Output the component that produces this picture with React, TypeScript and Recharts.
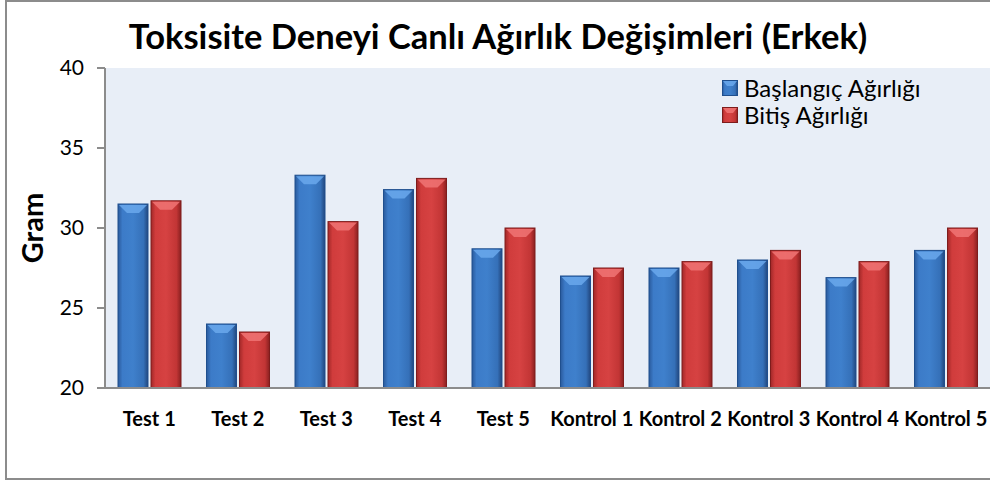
import { Bar, BarChart, CartesianGrid, Legend, XAxis, YAxis } from "recharts";

const categories = [
  "Test 1",
  "Test 2",
  "Test 3",
  "Test 4",
  "Test 5",
  "Kontrol 1",
  "Kontrol 2",
  "Kontrol 3",
  "Kontrol 4",
  "Kontrol 5",
];
const baslangic = [31.5, 24.0, 33.3, 32.4, 28.7, 27.0, 27.5, 28.0, 26.9, 28.6];
const bitis = [31.7, 23.5, 30.4, 33.1, 30.0, 27.5, 27.9, 28.6, 27.9, 30.0];
const yTicks = [20, 25, 30, 35, 40];

const data = categories.map((name, i) => ({
  name,
  baslangic: baslangic[i],
  bitis: bitis[i],
}));

const font = "Lato, 'Open Sans', sans-serif";

const palettes = {
  blue: { grad: "url(#blueBody)", top: "#6aa8ec", edge: "#1f4f8e" },
  red: { grad: "url(#redBody)", top: "#f07474", edge: "#7e1c1c" },
};

function makeBar(p: { grad: string; top: string; edge: string }) {
  return (props: any) => {
    const { x, y, width, height } = props;
    if (!height || height <= 0) return null;
    const b = Math.min(9, width / 3, height);
    return (
      <g>
        <rect x={x} y={y} width={width} height={height} fill={p.grad} stroke={p.edge} strokeWidth={1} />
        <polygon
          points={`${x + 1},${y + 1} ${x + width - 1},${y + 1} ${x + width - b},${y + b} ${x + b},${y + b}`}
          fill={p.top}
          opacity={0.85}
        />
      </g>
    );
  };
}

const BlueBar = makeBar(palettes.blue);
const RedBar = makeBar(palettes.red);

function LegendBox({ color }: { color: "blue" | "red" }) {
  const p = palettes[color];
  return (
    <svg width={16} height={16} style={{ marginRight: 6 }}>
      <rect x={0.5} y={0.5} width={15} height={15} fill={p.grad} stroke={p.edge} />
      <polygon points="1,1 15,1 11,6 5,6" fill={p.top} opacity={0.85} />
    </svg>
  );
}

function renderLegend() {
  const items: { label: string; color: "blue" | "red" }[] = [
    { label: "Başlangıç Ağırlığı", color: "blue" },
    { label: "Bitiş Ağırlığı", color: "red" },
  ];
  return (
    <div style={{ fontFamily: font, fontSize: 24, color: "#000", lineHeight: "27px" }}>
      {items.map((it) => (
        <div key={it.label} style={{ display: "flex", alignItems: "center" }}>
          <LegendBox color={it.color} />
          <span>{it.label}</span>
        </div>
      ))}
    </div>
  );
}

export default function App() {
  return (
    <div
      style={{
        position: "absolute",
        left: 0,
        top: 0,
        width: 990,
        height: 483,
        overflow: "hidden",
        background: "#fff",
      }}
    >
      <div
        style={{
          position: "absolute",
          left: 5,
          top: 0,
          width: 1010,
          height: 480,
          border: "2px solid #8c8c8c",
          boxSizing: "border-box",
        }}
      />
      <div
        style={{
          position: "absolute",
          left: 0,
          width: 996,
          top: 15,
          textAlign: "center",
          fontFamily: font,
          fontWeight: "bold",
          fontSize: 34.5,
          color: "#000",
        }}
      >
        Toksisite Deneyi Canlı Ağırlık Değişimleri (Erkek)
      </div>
      <div style={{ position: "absolute", left: 0, top: 0 }}>
        <BarChart
          width={990}
          height={483}
          data={data}
          margin={{ top: 68, right: 0, bottom: 55, left: 0 }}
          barSize={30}
          barGap={3}
        >
          <defs>
            <linearGradient id="blueBody" x1="0" y1="0" x2="1" y2="0">
              <stop offset="0%" stopColor="#2a5a9c" />
              <stop offset="15%" stopColor="#3c7bc8" />
              <stop offset="50%" stopColor="#3f80cc" />
              <stop offset="85%" stopColor="#3570b8" />
              <stop offset="100%" stopColor="#22477e" />
            </linearGradient>
            <linearGradient id="redBody" x1="0" y1="0" x2="1" y2="0">
              <stop offset="0%" stopColor="#a12828" />
              <stop offset="15%" stopColor="#d03c3c" />
              <stop offset="50%" stopColor="#d64242" />
              <stop offset="85%" stopColor="#c23535" />
              <stop offset="100%" stopColor="#8a2020" />
            </linearGradient>
          </defs>
          <CartesianGrid horizontal={false} vertical={false} fill="#e8eef7" stroke="none" />
          <XAxis
            dataKey="name"
            height={40}
            tickLine={false}
            axisLine={{ stroke: "#8c8c8c", strokeWidth: 2 }}
            tickMargin={18}
            interval={0}
            tick={{ fill: "#000", fontSize: 20, fontWeight: "bold", fontFamily: font }}
          />
          <YAxis
            width={105}
            domain={[20, 40]}
            ticks={yTicks}
            allowDataOverflow
            tickSize={8}
            tickMargin={13}
            axisLine={{ stroke: "#8c8c8c", strokeWidth: 2 }}
            tickLine={{ stroke: "#8c8c8c", strokeWidth: 2 }}
            tick={{ fill: "#000", fontSize: 21, fontFamily: font }}
            label={{
              content: (props: any) => {
                const vb = props.viewBox || { x: 0, y: 68, width: 105, height: 320 };
                const cx = 31;
                const cy = vb.y + vb.height / 2;
                return (
                  <text
                    x={cx}
                    y={cy}
                    transform={`rotate(-90 ${cx} ${cy})`}
                    textAnchor="middle"
                    dominantBaseline="central"
                    fontFamily={font}
                    fontWeight="bold"
                    fontSize={29}
                    fill="#000"
                  >
                    Gram
                  </text>
                );
              },
            }}
          />
          <Legend
            content={renderLegend}
            layout="horizontal"
            align="center"
            verticalAlign="middle"
            wrapperStyle={{ left: 722, top: 74, width: 260 }}
          />
          <Bar dataKey="baslangic" name="Başlangıç Ağırlığı" fill="#3c7bc8" shape={BlueBar} isAnimationActive={false} />
          <Bar dataKey="bitis" name="Bitiş Ağırlığı" fill="#d03c3c" shape={RedBar} isAnimationActive={false} />
        </BarChart>
      </div>
    </div>
  );
}
